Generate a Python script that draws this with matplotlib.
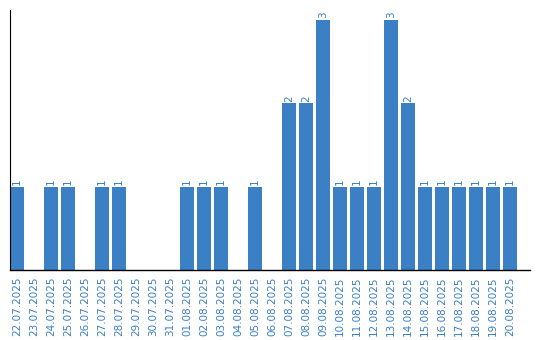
import matplotlib
matplotlib.use("Agg")
import matplotlib.pyplot as plt

dates = ["22.07.2025", "23.07.2025", "24.07.2025", "25.07.2025", "26.07.2025",
         "27.07.2025", "28.07.2025", "29.07.2025", "30.07.2025", "31.07.2025",
         "01.08.2025", "02.08.2025", "03.08.2025", "04.08.2025", "05.08.2025",
         "06.08.2025", "07.08.2025", "08.08.2025", "09.08.2025", "10.08.2025",
         "11.08.2025", "12.08.2025", "13.08.2025", "14.08.2025", "15.08.2025",
         "16.08.2025", "17.08.2025", "18.08.2025", "19.08.2025", "20.08.2025"]
counts = [1, 0, 1, 1, 0, 1, 1, 0, 0, 0, 1, 1, 1, 0, 1, 0, 2, 2, 3, 1,
          1, 1, 3, 2, 1, 1, 1, 1, 1, 1]

bar_color = "#3b7fc4"
text_color = "#3b7fc4"

fig = plt.figure(figsize=(5.4, 3.4), dpi=100)
ax = fig.add_axes([10 / 540, 70 / 340, 520 / 540, 260 / 340])
x = list(range(len(dates)))
ax.bar(x, counts, width=14 / 17, color=bar_color)
for xi, v in zip(x, counts):
    if v > 0:
        ax.text(xi, v + 0.02, str(v), rotation=90, ha="center", va="bottom",
                fontsize=7.5, color=text_color)
ax.set_xlim(-7 / 17, 30.18)
ax.set_ylim(0, 262 / 84)
ax.set_xticks(x)
ax.set_xticklabels(dates, rotation=90, fontsize=7.5, color=text_color)
ax.tick_params(axis="x", length=0, pad=5)
ax.set_yticks([])
for s in ["top", "right"]:
    ax.spines[s].set_visible(False)
ax.spines["left"].set_color("black")
ax.spines["bottom"].set_color("black")
ax.spines["left"].set_linewidth(0.8)
ax.spines["bottom"].set_linewidth(1.0)
fig.savefig("out.png", dpi=100)
